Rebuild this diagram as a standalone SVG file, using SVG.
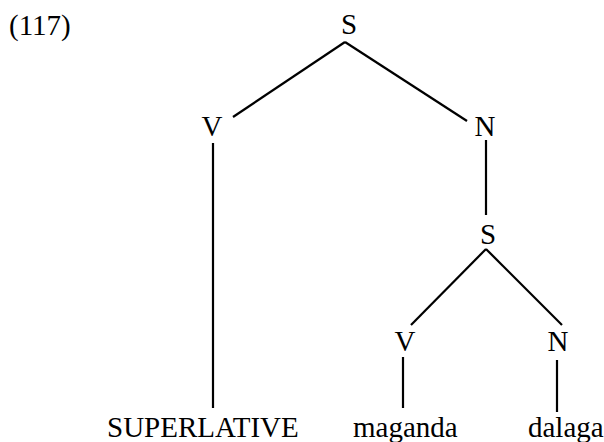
<svg xmlns="http://www.w3.org/2000/svg" width="604" height="442" viewBox="0 0 604 442">
<style>
text{font-family:"Liberation Serif","Times New Roman",serif;font-size:29px;fill:#000}
.c{text-anchor:middle}
line{stroke:#000;stroke-width:2.2}
</style>
<rect width="604" height="442" fill="#fff"/>
<text x="9" y="35">(117)</text>
<g id="connectors">
<line x1="345" y1="42" x2="233" y2="117"/>
<line x1="345" y1="42" x2="467" y2="121"/>
<line x1="213" y1="143" x2="213" y2="408"/>
<line x1="486" y1="140" x2="486" y2="215"/>
<line x1="486" y1="249" x2="411" y2="325"/>
<line x1="486" y1="249" x2="562" y2="325"/>
<line x1="403" y1="357" x2="403" y2="408"/>
<line x1="557" y1="360" x2="557" y2="412"/>
</g>
<g id="S1"><text class="c" x="349" y="34">S</text></g>
<g id="V1"><text class="c" x="212" y="136">V</text></g>
<g id="N1"><text class="c" x="485" y="136">N</text></g>
<g id="S2"><text class="c" x="488" y="244">S</text></g>
<g id="V2"><text class="c" x="405" y="351">V</text></g>
<g id="N2"><text class="c" x="558" y="351">N</text></g>
<g id="SUPERLATIVE"><text x="107" y="437">SUPERLATIVE</text></g>
<g id="maganda"><text x="353" y="437">maganda</text></g>
<g id="dalaga"><text x="528" y="437">dalaga</text></g>
</svg>
